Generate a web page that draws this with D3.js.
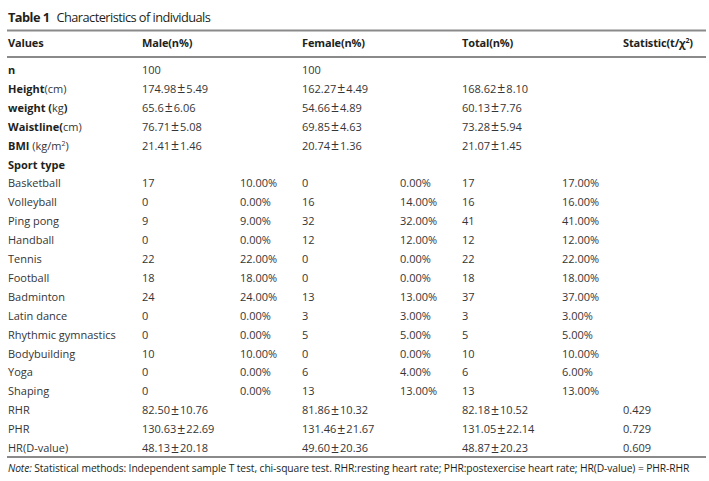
<!DOCTYPE html>
<html>
<head>
<meta charset="utf-8">
<script src="https://cdn.jsdelivr.net/npm/d3@7"></script>
<style>
  html, body { margin: 0; padding: 0; background: #fff; }
  svg { display: block; }
  text { font-family: "Open Sans", "Noto Sans", sans-serif; }
</style>
</head>
<body>
<svg id="chart" width="709" height="481"></svg>
<script>
// ---------- data ----------
const columns = ["Values", "Male(n%)", "Female(n%)", "Total(n%)", "Statistic"];

const summaryLabels = ["n", "Height", "weight", "Waistline", "BMI"];
const maleSummary   = ["100", "174.98±5.49", "65.6±6.06", "76.71±5.08", "21.41±1.46"];
const femaleSummary = ["100", "162.27±4.49", "54.66±4.89", "69.85±4.63", "20.74±1.36"];
const totalSummary  = ["", "168.62±8.10", "60.13±7.76", "73.28±5.94", "21.07±1.45"];

const sports    = ["Basketball", "Volleyball", "Ping pong", "Handball", "Tennis", "Football", "Badminton",
                   "Latin dance", "Rhythmic gymnastics", "Bodybuilding", "Yoga", "Shaping"];
const maleN     = [17, 0, 9, 0, 22, 18, 24, 0, 0, 10, 0, 0];
const malePct   = ["10.00%", "0.00%", "9.00%", "0.00%", "22.00%", "18.00%", "24.00%", "0.00%", "0.00%", "10.00%", "0.00%", "0.00%"];
const femaleN   = [0, 16, 32, 12, 0, 0, 13, 3, 5, 0, 6, 13];
const femalePct = ["0.00%", "14.00%", "32.00%", "12.00%", "0.00%", "0.00%", "13.00%", "3.00%", "5.00%", "0.00%", "4.00%", "13.00%"];
const totalN    = [17, 16, 41, 12, 22, 18, 37, 3, 5, 10, 6, 13];
const totalPct  = ["17.00%", "16.00%", "41.00%", "12.00%", "22.00%", "18.00%", "37.00%", "3.00%", "5.00%", "10.00%", "6.00%", "13.00%"];

const hrLabels  = ["RHR", "PHR", "HR(D-value)"];
const hrMale    = ["82.50±10.76", "130.63±22.69", "48.13±20.18"];
const hrFemale  = ["81.86±10.32", "131.46±21.67", "49.60±20.36"];
const hrTotal   = ["82.18±10.52", "131.05±22.14", "48.87±20.23"];
const hrStat    = ["0.429", "0.729", "0.609"];

const noteText = "Statistical methods: Independent sample T test, chi-square test. RHR:resting heart rate; PHR:postexercise heart rate; HR(D-value) = PHR-RHR";

// ---------- layout ----------
const svg = d3.select("#chart");
const TEXT = "#231f20";
const BODY = "#353535";
const RULE = "#8a8a8a";
const FS = 11;

const rowKeys = ["n", "Height", "weight", "Waistline", "BMI", "Sport type", ...sports, ...hrLabels];
const y = d3.scalePoint().domain(rowKeys).range([74, 74 + 18.9 * (rowKeys.length - 1)]);

const colX = d3.scaleOrdinal()
  .domain(["label", "male", "malePct", "female", "femalePct", "total", "totalPct", "stat"])
  .range([8, 142, 240, 302, 400, 462, 562, 623]);

// title
const title = svg.append("text").attr("x", 8).attr("y", 22).attr("font-size", 12.8)
  .attr("letter-spacing", -0.55).attr("fill", TEXT);
title.append("tspan").attr("font-weight", 700).text("Table 1");
title.append("tspan").attr("dx", 7).text("Characteristics of individuals");

// rules
const rules = [30.5, 57, 457];
svg.selectAll("line.rule").data(rules).join("line")
  .attr("class", "rule")
  .attr("x1", 7).attr("x2", 706)
  .attr("y1", d => d).attr("y2", d => d)
  .attr("stroke", RULE).attr("stroke-width", 2);

// header
const headerX = [colX("label"), colX("male"), colX("female"), colX("total"), colX("stat")];
const hdr = svg.append("g").attr("font-weight", 700).attr("font-size", FS).attr("fill", TEXT)
  .attr("letter-spacing", -0.15);
columns.forEach((c, i) => {
  const t = hdr.append("text").attr("x", headerX[i]).attr("y", 47);
  if (c === "Statistic") {
    t.append("tspan").text("Statistic(t/χ");
    t.append("tspan").attr("font-size", 7).attr("dy", -4).text("2");
    t.append("tspan").attr("dy", 4).text(")");
  } else {
    t.text(c);
  }
});

// summary labels with units
const labelParts = {
  "n": [["n", 700]],
  "Height": [["Height", 700], ["(cm)", 400]],
  "weight": [["weight (", 700], ["kg", 400], [")", 700]],
  "Waistline": [["Waistline(", 700], ["cm)", 400]],
  "BMI": [["BMI", 700], [" (kg/m", 400], ["2", 400, "sup"], [")", 400]],
  "Sport type": [["Sport type", 700]]
};
const body = svg.append("g").attr("font-size", FS).attr("fill", BODY);

Object.keys(labelParts).forEach(k => {
  const t = body.append("text").attr("x", colX("label")).attr("y", y(k)).attr("fill", TEXT);
  labelParts[k].forEach(p => {
    const s = t.append("tspan").attr("font-weight", p[1]).text(p[0]);
    if (p[2] === "sup") s.attr("font-size", 7).attr("dy", -4);
    else if (k === "BMI" && p[0] === ")") s.attr("dy", 4);
    if (p[1] === 400) s.attr("fill", BODY);
  });
});

function cell(text, col, row) {
  const str = String(text);
  const t = body.append("text").attr("x", colX(col)).attr("y", y(row));
  if (str.includes("±")) {
    const [m, s] = str.split("±");
    t.append("tspan").text(m);
    t.append("tspan").attr("dx", 1).attr("font-size", 14).attr("dy", 0.5).text("±");
    t.append("tspan").attr("dx", 1).attr("dy", -0.5).text(s);
  } else {
    t.text(str);
  }
}

summaryLabels.forEach((k, i) => {
  cell(maleSummary[i], "male", k);
  cell(femaleSummary[i], "female", k);
  if (totalSummary[i]) cell(totalSummary[i], "total", k);
});

sports.forEach((s, i) => {
  cell(s, "label", s);
  cell(maleN[i], "male", s);
  cell(malePct[i], "malePct", s);
  cell(femaleN[i], "female", s);
  cell(femalePct[i], "femalePct", s);
  cell(totalN[i], "total", s);
  cell(totalPct[i], "totalPct", s);
});

hrLabels.forEach((k, i) => {
  cell(k, "label", k);
  cell(hrMale[i], "male", k);
  cell(hrFemale[i], "female", k);
  cell(hrTotal[i], "total", k);
  cell(hrStat[i], "stat", k);
});

// note
const note = svg.append("text").attr("x", 8).attr("y", 472).attr("font-size", 10.3)
  .attr("letter-spacing", -0.1).attr("fill", TEXT);
note.append("tspan").attr("font-style", "italic").text("Note:");
note.append("tspan").text(" " + noteText);
</script>
</body>
</html>
